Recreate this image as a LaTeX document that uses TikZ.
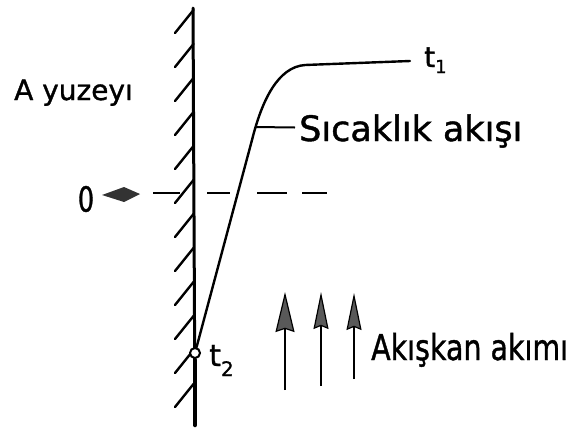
\documentclass[tikz,border=0pt]{standalone}
\usepackage{fontspec}
\setmainfont{DejaVu Sans}
\newfontfamily\lblfont{DejaVu Sans}[BoldFont={DejaVu Sans}, BoldFeatures={FakeBold=1.2}]
\usetikzlibrary{arrows.meta}
\tikzset{
  wall/.style={line width=3pt, line cap=round},
  hatch/.style={line width=2.4pt, line cap=round},
  curve/.style={line width=2.4pt, line cap=round, line join=round},
  lbl/.style={inner sep=0pt, anchor=base west, font=\lblfont\bfseries},
  flowarrow/.style={line width=2.4pt, -{Stealth[length=40pt, width=19pt, inset=3pt, fill=black!65, line width=1.2pt]}},
  flowarrowsmall/.style={line width=2.4pt, -{Stealth[length=37pt, width=15pt, inset=3pt, fill=black!65, line width=1.2pt]}}
}
\begin{document}
\begin{tikzpicture}[x=1pt,y=-1pt]
\useasboundingbox (0,0) rectangle (572,434);
% wall
\coordinate (wtop) at (193,8);
\coordinate (wbot) at (195,425);
\draw[wall] (wtop) -- (wbot);
\draw[line width=4.5pt, line cap=round] (195,360) -- (wbot);
\foreach \t in {10,44,78,112,146,180,214,248,282,316,350,384}{
  \draw[hatch] (175,\t+23) -- (193.5,\t);
}
% dashed line and arrowhead
\draw[line width=2.4pt, dash pattern=on 27pt off 27pt on 23pt off 27pt on 30pt off 15pt on 25pt] (153,193) -- (327,193);
\fill[black!80] (102,195) -- (124,187) -- (140,194) -- (124,202) -- cycle;
\node[inner sep=0pt, font=\lblfont\bfseries] (zero) at (86,199) {\scalebox{0.85}[1.15]{\fontsize{30}{32}\selectfont 0}};
% temperature curve
\node[circle, draw, line width=2pt, fill=white, minimum size=10pt, inner sep=0pt] (t2pt) at (195,353) {};
\coordinate (bend) at (252,140);
\coordinate (t1end) at (410,61);
\draw[curve] (t2pt) -- (bend) .. controls (262,100) and (278,67) .. (305,65) -- (t1end);
\coordinate (lj) at (255,127);
% labels
\node[lbl] (ay) at (14,100) {\fontsize{28}{30}\selectfont A yuzeyı};
\node[lbl] (sic) at (299,141) {\fontsize{35}{38}\selectfont Sıcaklık akışı};
\draw[line width=2pt] (lj) -- (295,127.5);
\node[lbl] (t1) at (424,67) {\fontsize{28}{30}\selectfont t\raisebox{-6pt}{\fontsize{18}{20}\selectfont 1}};
\node[lbl] (t2) at (209,366) {\fontsize{30}{32}\selectfont t\raisebox{-10pt}{\fontsize{20}{22}\selectfont 2}};
\node[lbl] (ak) at (371,360) {\scalebox{1}[1.25]{\fontsize{28.5}{30}\selectfont Akışkan akımı}};
% flow arrows
\coordinate (a1b) at (285,390); \coordinate (a1t) at (285,292);
\coordinate (a2b) at (321,386); \coordinate (a2t) at (321,292);
\coordinate (a3b) at (354,379); \coordinate (a3t) at (354,293);
\draw[flowarrow] (a1b) -- (a1t);
\draw[flowarrowsmall] (a2b) -- (a2t);
\draw[flowarrowsmall] (a3b) -- (a3t);
\end{tikzpicture}
\end{document}
